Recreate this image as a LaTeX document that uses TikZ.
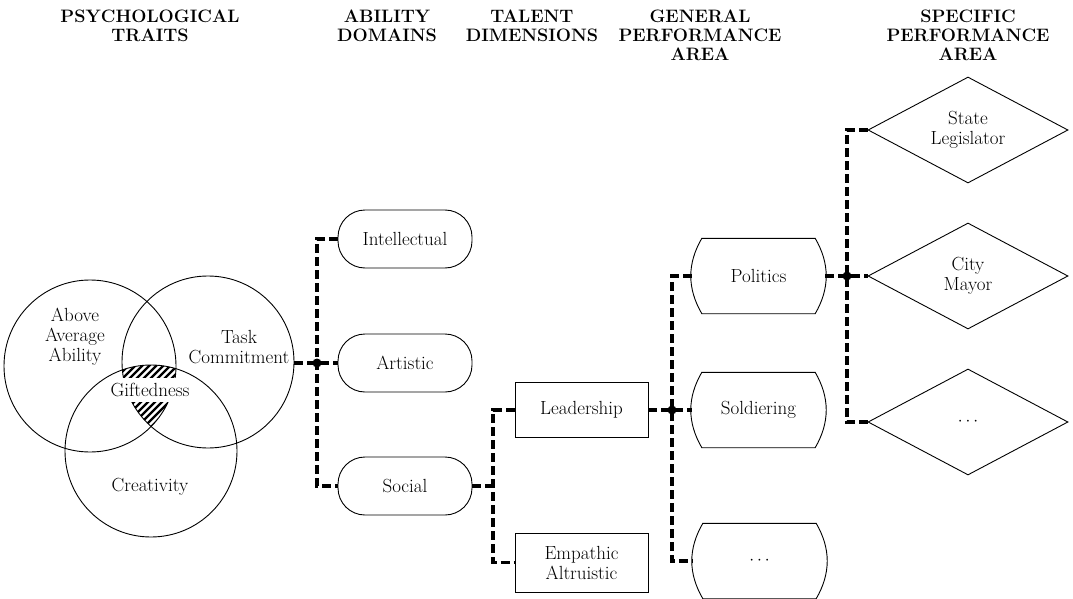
\documentclass[tikz,border=0pt]{standalone}
\usetikzlibrary{shapes.geometric}
\begin{document}
\begin{tikzpicture}[x=1pt,y=-1pt,
  txt/.style={font=\fontsize{19}{20}\selectfont, align=center, inner sep=0pt},
  head/.style={font=\bfseries\fontsize{18}{19}\selectfont, align=center, inner sep=0pt, anchor=north},
  conn/.style={line width=3.6pt, dash pattern=on 9pt off 4pt},
  outl/.style={line width=0.9pt},
  venn/.style={draw, outl, circle, minimum size=172pt, inner sep=0pt},
  abil/.style={draw, outl, rectangle, rounded corners=27pt, minimum width=134pt, minimum height=58pt, txt},
  talent/.style={draw, outl, rectangle, minimum width=133pt, txt},
  general/.style={rectangle, minimum width=133pt, minimum height=75pt, txt},
  spec/.style={draw, outl, diamond, aspect=2, minimum width=200pt, minimum height=106pt, txt},
  jdot/.style={fill=black}
]
\useasboundingbox (0,0) rectangle (1073,599);

% headings
\node[head] (h1) at (150,10) {PSYCHOLOGICAL\\TRAITS};
\node[head] (h2) at (387,10) {ABILITY\\DOMAINS};
\node[head] (h3) at (532,10) {TALENT\\DIMENSIONS};
\node[head] (h4) at (700,10) {GENERAL\\PERFORMANCE\\AREA};
\node[head] (h5) at (968,10) {SPECIFIC\\PERFORMANCE\\AREA};

% Venn diagram
\begin{scope}
  \clip (90,366) circle[radius=86pt];
  \clip (208,362) circle[radius=86pt];
  \clip (151,451) circle[radius=86pt];
  \foreach \i in {-140,-133,...,140}
    \draw[line width=2.2pt] (150+\i-50,450) -- (150+\i+50,350);
\end{scope}
\node[venn] (aa) at (90,366) {};
\node[venn] (tc) at (208,362) {};
\node[venn] (cr) at (151,451) {};
\node[txt] (aat) at (75,337) {Above\\Average\\Ability};
\node[txt] (tct) at (239,347) {Task\\Commitment};
\node[txt] (crt) at (150,487) {Creativity};
\node[txt, fill=white, inner xsep=2pt, minimum height=24pt] (gift) at (150,390) {Giftedness};

% ability domains
\node[abil] (intel) at (405,239) {Intellectual};
\node[abil] (art) at (405,363) {Artistic};
\node[abil] (soc) at (405,486) {Social};

% talent dimensions
\node[talent, minimum height=55pt] (lead) at (581.5,410) {Leadership};
\node[talent, minimum height=59pt] (emp) at (581.5,562.5) {Empathic\\Altruistic};

% general performance areas
\node[general] (pol) at (758.5,276) {Politics};
\node[general] (sold) at (758.5,410) {Soldiering};
\node[general] (g3) at (759.5,561) {$\cdots$};
\foreach \n in {pol,sold,g3}
  \draw[outl] ([xshift=10pt]\n.north west) -- ([xshift=-10pt]\n.north east)
    to[bend left=30] ([xshift=-10pt]\n.south east) -- ([xshift=10pt]\n.south west)
    to[bend left=30] ([xshift=10pt]\n.north west) -- cycle;

% specific performance areas
\node[spec] (sl) at (968,130) {State\\Legislator};
\node[spec] (cm) at (968,276) {City\\Mayor};
\node[spec] (d3) at (968,422) {$\cdots$};

% junctions
\coordinate (j1) at (317,363);
\coordinate (j4) at (493,486);
\coordinate (j2) at (672,410);
\coordinate (j3) at (847,276);

% connectors
\draw[conn] (art.west -| tc.east) -- (art.west);
\draw[conn] (intel.west) -| (j1) |- (soc.west);
\draw[conn] (soc.east) -- (j4);
\draw[conn] (lead.west) -| (j4) |- (emp.west);
\draw[conn] (lead.east) -- (sold.west);
\draw[conn] (pol.west) -| (j2) |- (g3.west);
\draw[conn] (pol.east) -- (cm.west);
\draw[conn] (sl.west) -| (j3) |- (d3.west);
\fill[jdot] (j1) circle[radius=4.5pt];
\fill[jdot] (j2) circle[radius=4.5pt];
\fill[jdot] (j3) circle[radius=4.5pt];
\end{tikzpicture}
\end{document}
